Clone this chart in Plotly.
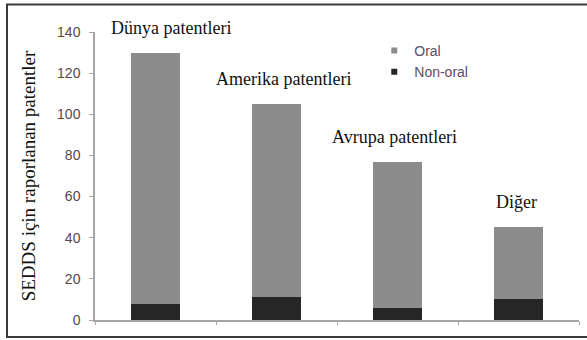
import plotly.graph_objects as go

categories = ["Dünya patentleri", "Amerika patentleri", "Avrupa patentleri", "Diğer"]
non_oral = [8, 11, 6, 10]
oral = [122, 94, 71, 35]
y_ticks = [0, 20, 40, 60, 80, 100, 120, 140]

label_xshift = [15, 7, -3, -2]

ORAL_C = "#8c8c8c"
NON_C = "#262626"
AXIS_C = "#a6a6a6"
TICK_TXT = "#574650"
LEG_TXT = "#5b4d6b"

fig = go.Figure()
fig.add_trace(go.Bar(x=categories, y=non_oral, marker=dict(color=NON_C, line=dict(width=0)),
                     width=0.4, showlegend=False, name="Non-oral"))
fig.add_trace(go.Bar(x=categories, y=oral, marker=dict(color=ORAL_C, line=dict(width=0)),
                     width=0.4, showlegend=False, name="Oral"))
# legend entries with small square symbols
fig.add_trace(go.Scatter(x=[None], y=[None], mode="markers", name="Oral",
                         marker=dict(symbol="square", size=6, color=ORAL_C)))
fig.add_trace(go.Scatter(x=[None], y=[None], mode="markers", name="Non-oral",
                         marker=dict(symbol="square", size=6, color=NON_C)))

totals = [a + b for a, b in zip(oral, non_oral)]
for c, t, dx in zip(categories, totals, label_xshift):
    fig.add_annotation(x=c, y=t, text=c, showarrow=False, yanchor="bottom",
                       yshift=13, xshift=dx,
                       font=dict(family="Liberation Serif", size=18, color="#111111"))

fig.update_layout(
    width=587, height=340,
    margin=dict(l=95, r=8, t=32, b=20),
    barmode="stack",
    paper_bgcolor="white", plot_bgcolor="white",
    showlegend=True,
    legend=dict(x=0.577, y=0.99, xanchor="left", yanchor="top", traceorder="normal",
                font=dict(family="Liberation Sans", size=14, color=LEG_TXT),
                itemwidth=30, tracegroupgap=0, bgcolor="rgba(0,0,0,0)"),
    xaxis=dict(type="category", showticklabels=False, showline=True, linecolor=AXIS_C,
               linewidth=1.5, ticks="outside", tickson="boundaries", ticklen=3,
               tickcolor=AXIS_C, showgrid=False, zeroline=False),
    yaxis=dict(range=[0, 140], tickvals=y_ticks, showline=True, linecolor=AXIS_C,
               linewidth=1.5, ticks="outside", ticklen=4, tickcolor=AXIS_C,
               showgrid=False, zeroline=False, ticklabelstandoff=6,
               tickfont=dict(family="Liberation Sans", size=14, color=TICK_TXT),
               title=dict(text="SEDDS için raporlanan patentler", standoff=16,
                          font=dict(family="Liberation Serif", size=19, color="#111111"))),
    shapes=[dict(type="rect", xref="paper", yref="paper", x0=-0.1818, x1=1.2,
                 y0=-0.059, y1=1.0955, line=dict(color="#3a3a3a", width=2),
                 fillcolor="rgba(0,0,0,0)", layer="above")],
)

fig.write_html("out.html")
